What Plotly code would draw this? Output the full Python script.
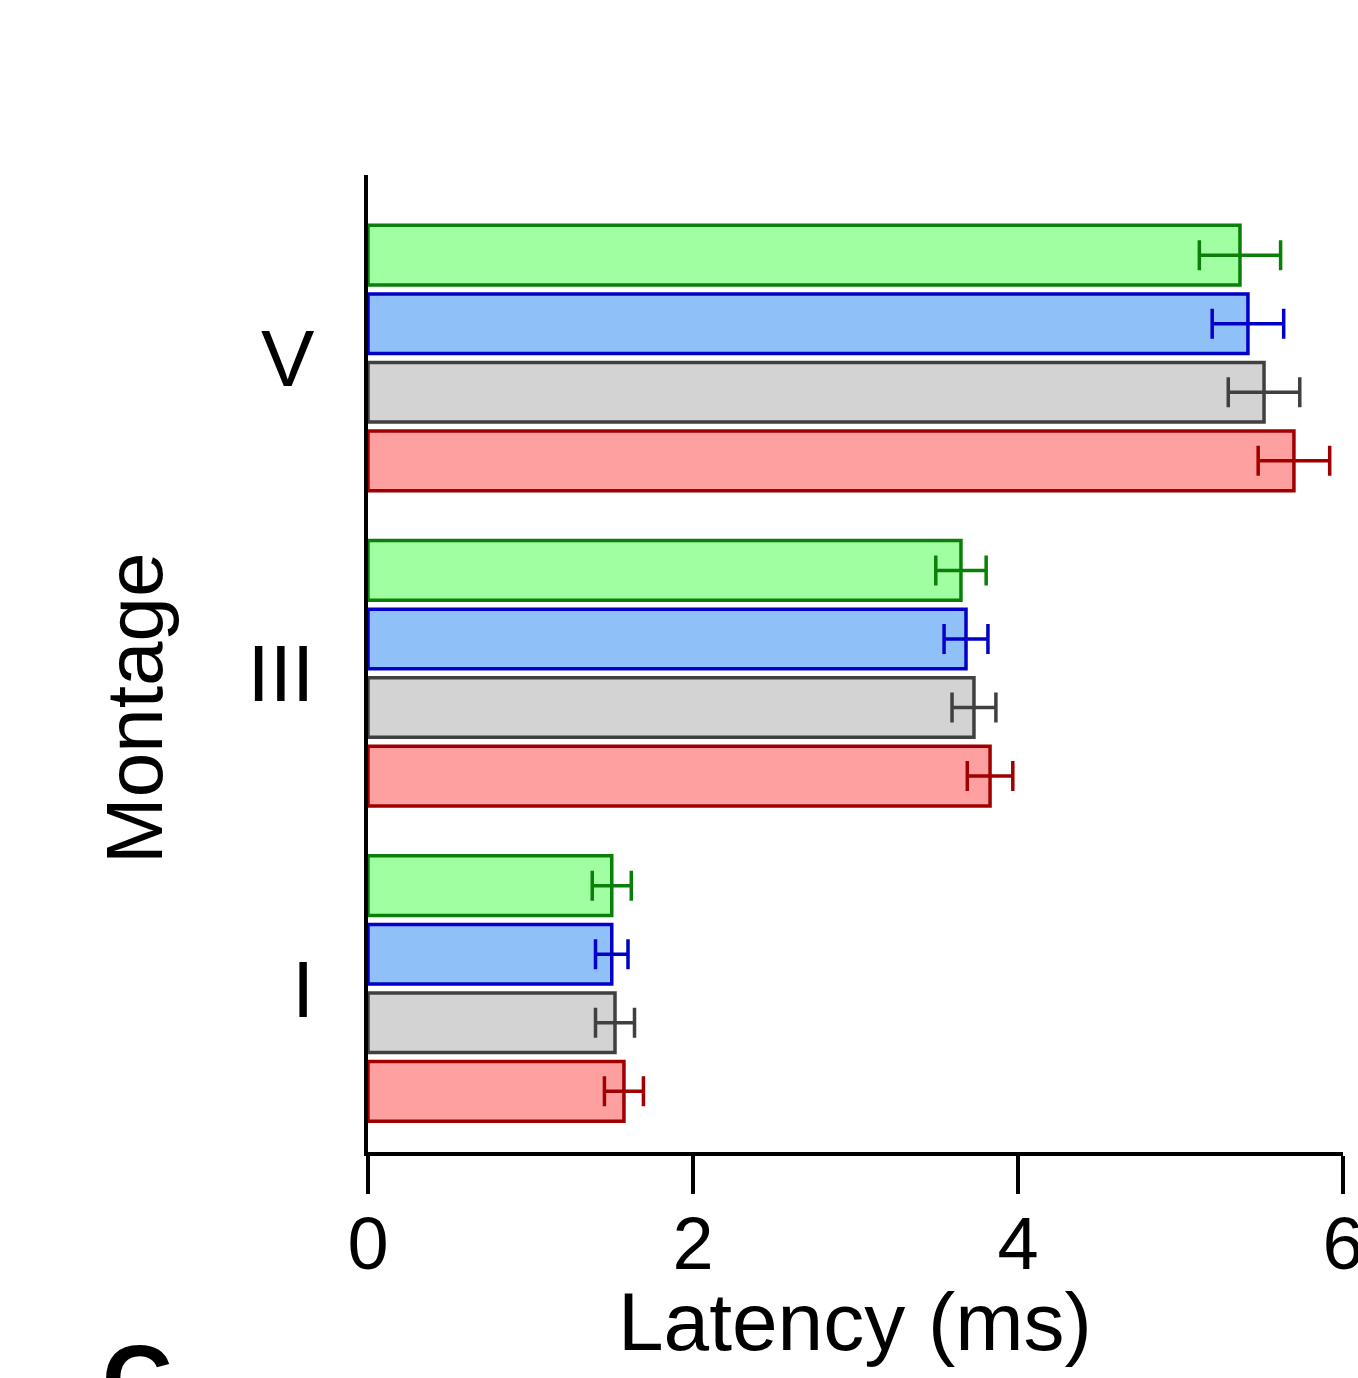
import plotly.graph_objects as go

categories = ["I", "III", "V"]
series_names = ["Red", "Gray", "Blue", "Green"]  # bottom-to-top within each group
red_vals = [1.575, 3.828, 5.698]
red_err = [0.12, 0.14, 0.22]
gray_vals = [1.52, 3.729, 5.514]
gray_err = [0.12, 0.135, 0.22]
blue_vals = [1.50, 3.68, 5.415]
blue_err = [0.10, 0.135, 0.22]
green_vals = [1.50, 3.649, 5.366]
green_err = [0.12, 0.155, 0.25]

fills = ["#ffa0a0", "#d3d3d3", "#90c0f8", "#a0ffa0"]
lines = ["#a00000", "#404040", "#0000c8", "#0a800a"]
values = [red_vals, gray_vals, blue_vals, green_vals]
errors = [red_err, gray_err, blue_err, green_err]

FONT = "Liberation Sans, Arial, sans-serif"

fig = go.Figure()
for name, v, e, fc, lc in zip(series_names, values, errors, fills, lines):
    fig.add_trace(go.Bar(
        y=categories, x=v, name=name, orientation="h",
        marker=dict(color=fc, line=dict(color=lc, width=3.5)),
        error_x=dict(type="data", array=e, color=lc, thickness=3.5, width=15, visible=True),
    ))

fig.update_layout(
    width=1358, height=1378,
    margin=dict(l=368, r=15, t=175, b=226, autoexpand=False),
    paper_bgcolor="white", plot_bgcolor="white",
    barmode="group", bargap=0.13, bargroupgap=0.13,
    showlegend=False,
    font=dict(family=FONT, color="black"),
    xaxis=dict(
        range=[0, 6], tickvals=[0, 2, 4, 6], ticktext=["0", "2", "4", "6"],
        showline=True, linecolor="black", linewidth=3.5,
        ticks="outside", ticklen=38, tickwidth=3.5, tickcolor="black",
        tickfont=dict(size=74, family=FONT), ticklabelstandoff=-14,
        ticklabeloverflow="allow", automargin=False,
        showgrid=False, zeroline=False,
    ),
    yaxis=dict(
        type="category", range=[-0.5186, 2.5805],
        showline=True, linecolor="black", linewidth=3.5, automargin=False,
        ticks="", tickfont=dict(size=80, family=FONT), ticklabelstandoff=34,
        showgrid=False, zeroline=False,
    ),
    annotations=[
        dict(text="Latency (ms)", xref="paper", yref="paper",
             x=0.4995, y=-0.174, xanchor="center", yanchor="middle", showarrow=False,
             font=dict(size=82, family=FONT, color="black")),
        dict(text="Montage", textangle=-90, xref="paper", yref="paper",
             x=-0.239, y=0.4545, xanchor="center", yanchor="middle", showarrow=False,
             font=dict(size=80, family=FONT, color="black")),
        dict(text="<b>C</b>", xref="paper", yref="paper",
             x=-0.275, y=-0.175, xanchor="left", yanchor="top", showarrow=False,
             font=dict(size=98, family=FONT, color="black")),
    ],
)

fig.write_html("out.html")
